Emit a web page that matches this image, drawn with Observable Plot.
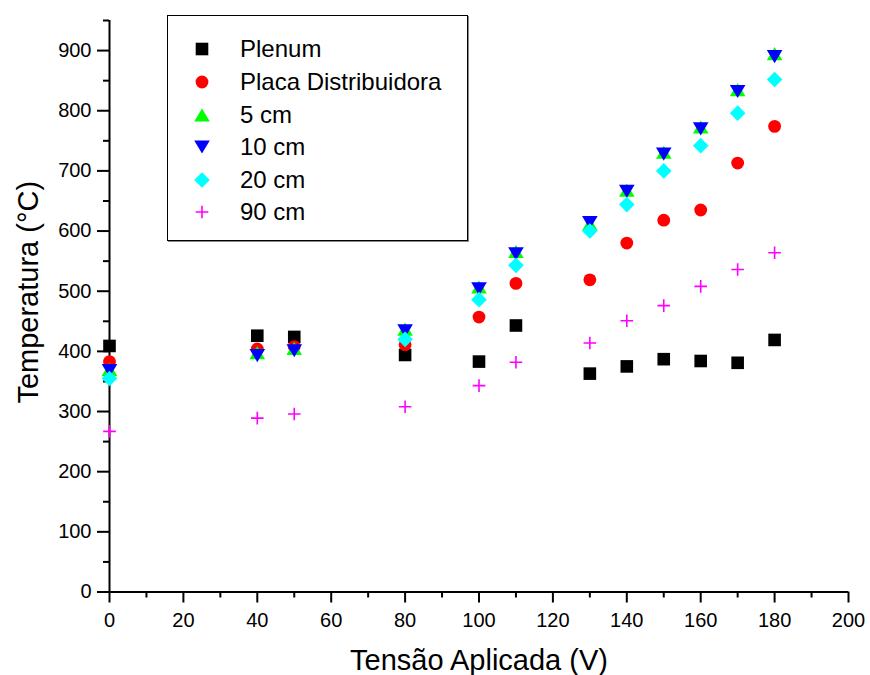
<!DOCTYPE html>
<html>
<head>
<meta charset="utf-8">
<script src="https://cdn.jsdelivr.net/npm/d3@7"></script>
<script src="https://cdn.jsdelivr.net/npm/@observablehq/plot@0.6"></script>
<style>
  html, body { margin: 0; padding: 0; background: white; }
  #wrap { position: relative; width: 870px; height: 675px; font-family: Arial, "Liberation Sans", sans-serif; }
  #legend { position: absolute; left: 167px; top: 15px; width: 301px; height: 226px; box-sizing: border-box;
            border: 1.3px solid #000; box-shadow: 1px 1px 0 #888; background: white; }
  .lrow { position: absolute; left: 0; height: 32px; }
  .lrow svg { position: absolute; left: 17px; top: 0; }
  .lrow span { position: absolute; left: 72px; font-size: 24px; color: #000; white-space: nowrap; line-height: 32px; top: 0; }
</style>
</head>
<body>
<div id="wrap"></div>
<script>
// ---- data ----
const voltages = [0, 40, 50, 80, 100, 110, 130, 140, 150, 160, 170, 180];
const plenum   = [409, 426, 424, 394, 383, 443, 363, 375, 387, 384, 381, 419];
const placa    = [383, 404, 408, 411, 457, 513, 519, 580, 618, 635, 713, 774];
const cm5      = [370, 398, 405, 437, 507, 566, 612, 668, 731, 773, 835, 895];
const cm10     = [368, 393, 401, 434, 504, 562, 614, 666, 728, 770, 832, 890];
const cm20     = [355, null, null, 420, 486, 543, 600, 644, 700, 742, 796, 852];
const cm90     = [267, 289, 296, 308, 343, 382, 414, 451, 476, 508, 536, 564];
const seriesNames = ["Plenum", "Placa Distribuidora", "5 cm", "10 cm", "20 cm", "90 cm"];
const xTicks = [0, 20, 40, 60, 80, 100, 120, 140, 160, 180, 200];
const yTicks = [0, 100, 200, 300, 400, 500, 600, 700, 800, 900];
const xLabel = "Tensão Aplicada (V)";
const yLabel = "Temperatura (°C)";

// ---- symbols ----
const triUp = {draw(ctx, size) { const r = Math.sqrt(size / Math.PI), w = 1.3 * r, h = 1.1 * r;
  ctx.moveTo(0, -h); ctx.lineTo(w, h); ctx.lineTo(-w, h); ctx.closePath(); }};
const triDown = {draw(ctx, size) { const r = Math.sqrt(size / Math.PI), w = 1.3 * r, h = 1.1 * r;
  ctx.moveTo(0, h); ctx.lineTo(w, -h); ctx.lineTo(-w, -h); ctx.closePath(); }};
const diamond = {draw(ctx, size) { const r = Math.sqrt(size / Math.PI), d = 1.3 * r;
  ctx.moveTo(0, -d); ctx.lineTo(d, 0); ctx.lineTo(0, d); ctx.lineTo(-d, 0); ctx.closePath(); }};
const square = {draw(ctx, size) { const r = Math.sqrt(size / Math.PI), s = 1.05 * r;
  ctx.rect(-s, -s, 2 * s, 2 * s); }};
const plus = {draw(ctx, size) { const r = Math.sqrt(size / Math.PI), s = 1.05 * r;
  ctx.moveTo(-s, 0); ctx.lineTo(s, 0); ctx.moveTo(0, -s); ctx.lineTo(0, s); }};

const series = [
  {name: seriesNames[0], values: plenum, symbol: square,  color: "#000000", r: 6, filled: true},
  {name: seriesNames[1], values: placa,  symbol: "circle", color: "#ff0000", r: 6.4, filled: true},
  {name: seriesNames[2], values: cm5,    symbol: triUp,   color: "#00ff00", r: 6, filled: true},
  {name: seriesNames[3], values: cm10,   symbol: triDown, color: "#0000ff", r: 6, filled: true},
  {name: seriesNames[4], values: cm20,   symbol: diamond, color: "#00ffff", r: 6, filled: true},
  {name: seriesNames[5], values: cm90,   symbol: plus,    color: "#ff00ff", r: 6, filled: false}
];

const dotMarks = series.map(s => {
  const rows = voltages.map((v, i) => ({x: v, y: s.values[i]})).filter(d => d.y != null);
  return Plot.dot(rows, s.filled
    ? {x: "x", y: "y", symbol: () => s.symbol, r: s.r, fill: s.color, stroke: null}
    : {x: "x", y: "y", symbol: () => s.symbol, r: s.r, stroke: s.color, strokeWidth: 1.6, fill: "none"});
});

const chart = Plot.plot({
  width: 870, height: 675,
  marginLeft: 109, marginRight: 22, marginTop: 20, marginBottom: 83.5,
  x: {domain: [0, 200]},
  y: {domain: [0, 950]},
  symbol: {type: "identity"},
  style: {fontFamily: 'Arial, "Liberation Sans", sans-serif', fontSize: "20px", color: "#000", background: "white", overflow: "visible"},
  marks: [
    Plot.axisX({ticks: xTicks, tickSize: 11, tickPadding: 10, strokeWidth: 2, fontSize: 20, label: null}),
    Plot.axisX({ticks: d3.range(10, 200, 20), tickSize: 6, strokeWidth: 2, text: null, label: null}),
    Plot.axisY({ticks: yTicks, tickSize: 12, tickPadding: 6, strokeWidth: 2, fontSize: 20, label: null}),
    Plot.axisY({ticks: d3.range(50, 951, 100), tickSize: 6, strokeWidth: 2, text: null, label: null}),
    Plot.ruleX([0], {strokeWidth: 2}),
    Plot.ruleY([0], {strokeWidth: 2}),
    Plot.text([xLabel], {frameAnchor: "bottom", dy: 69, fontSize: 29, lineAnchor: "middle", textAnchor: "middle"}),
    Plot.text([yLabel], {frameAnchor: "left", dx: -81, dy: -14, rotate: -90, fontSize: 29, lineAnchor: "middle", textAnchor: "middle"}),
    ...dotMarks
  ]
});

const wrap = document.getElementById("wrap");
wrap.appendChild(chart);

// ---- legend (inside the plot area, like the original) ----
const legend = document.createElement("div");
legend.id = "legend";
series.forEach((s, i) => {
  const row = document.createElement("div");
  row.className = "lrow";
  row.style.top = (17.3 + i * 32.6) + "px";
  row.style.width = "100%";
  const svg = d3.create("svg").attr("width", 34).attr("height", 32);
  const path = d3.symbol().type(s.symbol === "circle" ? d3.symbolCircle : s.symbol).size(Math.PI * s.r * s.r)();
  const p = svg.append("path").attr("d", path).attr("transform", "translate(17,16)");
  if (s.filled) p.attr("fill", s.color); else p.attr("fill", "none").attr("stroke", s.color).attr("stroke-width", 1.6);
  row.appendChild(svg.node());
  const t = document.createElement("span");
  t.textContent = s.name;
  row.appendChild(t);
  legend.appendChild(row);
});
wrap.appendChild(legend);
</script>
</body>
</html>
